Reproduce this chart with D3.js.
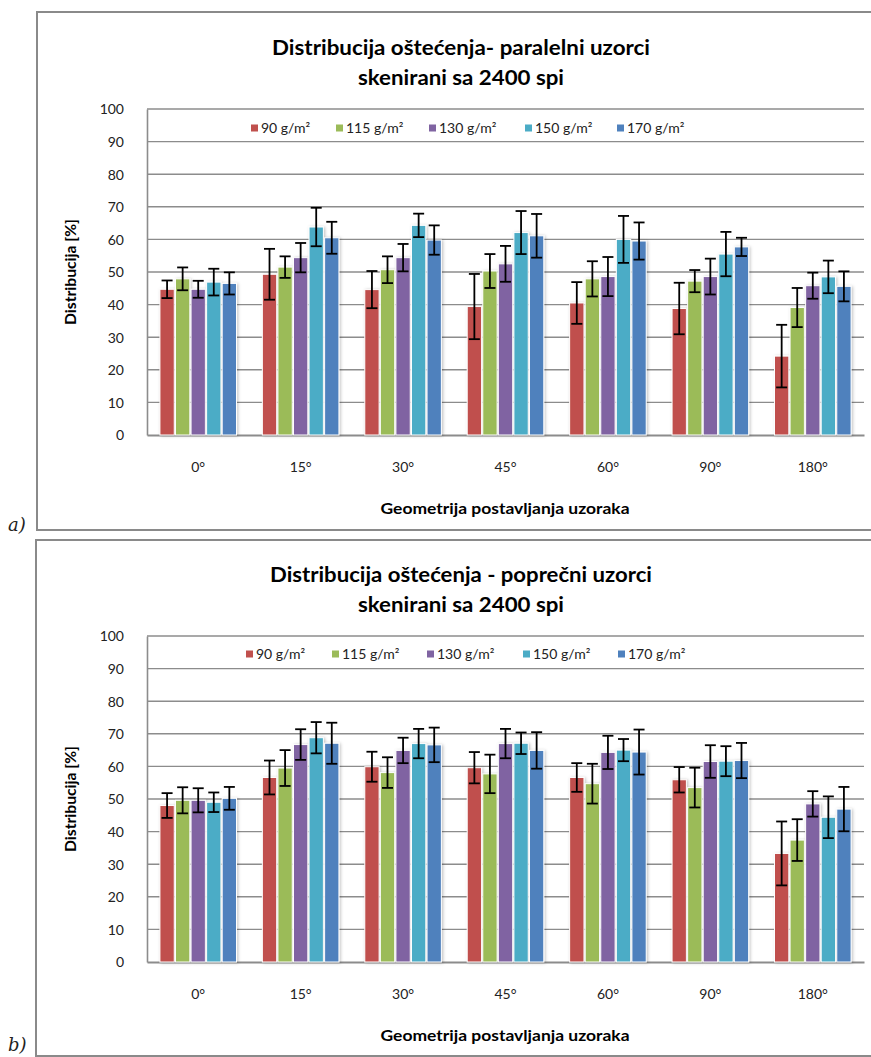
<!DOCTYPE html>
<html>
<head>
<meta charset="utf-8">
<script src="https://cdn.jsdelivr.net/npm/d3@7/dist/d3.min.js"></script>
<style>
  html, body { margin: 0; padding: 0; background: #fff; }
  svg { display: block; }
</style>
</head>
<body>
<svg id="chart" width="871" height="1057"></svg>
<script>
// ---------- DATA ----------
const categories = ["0°", "15°", "30°", "45°", "60°", "90°", "180°"];
const seriesNames = ["90 g/m²", "115 g/m²", "130 g/m²", "150 g/m²", "170 g/m²"];
const yTicks = [0, 10, 20, 30, 40, 50, 60, 70, 80, 90, 100];

// a) parallel samples – means
const par90  = [44.7, 49.3, 44.6, 39.4, 40.5, 38.8, 24.2];
const par115 = [47.9, 51.5, 50.7, 50.3, 47.9, 47.2, 39.1];
const par130 = [44.7, 54.4, 54.4, 52.5, 48.6, 48.6, 45.8];
const par150 = [46.9, 63.8, 64.3, 62.1, 60.0, 55.5, 48.5];
const par170 = [46.5, 60.5, 59.8, 61.1, 59.5, 57.7, 45.6];
// a) error bars
const parErr90  = [2.7, 7.8, 5.7, 10.0, 6.4, 7.9, 9.6];
const parErr115 = [3.5, 3.3, 4.1, 5.2, 5.4, 3.4, 6.0];
const parErr130 = [2.6, 4.5, 4.2, 5.5, 6.0, 5.5, 4.0];
const parErr150 = [4.1, 5.9, 3.6, 6.6, 7.2, 6.8, 5.0];
const parErr170 = [3.4, 4.9, 4.5, 6.7, 5.7, 2.8, 4.6];

// b) transverse samples – means
const pop90  = [48.0, 56.6, 59.9, 59.6, 56.6, 55.9, 33.3];
const pop115 = [49.6, 59.5, 58.1, 57.7, 54.7, 53.5, 37.4];
const pop130 = [49.6, 66.7, 64.9, 67.0, 64.3, 61.5, 48.5];
const pop150 = [49.0, 68.8, 67.0, 67.1, 65.0, 61.6, 44.4];
const pop170 = [50.2, 67.1, 66.6, 64.9, 64.4, 61.8, 46.9];
// b) error bars
const popErr90  = [3.8, 5.2, 4.6, 4.8, 4.4, 3.9, 9.8];
const popErr115 = [4.0, 5.5, 4.7, 5.9, 6.1, 6.1, 6.4];
const popErr130 = [3.7, 4.7, 3.9, 4.5, 5.1, 5.0, 3.9];
const popErr150 = [3.0, 4.8, 4.5, 3.3, 3.4, 4.6, 6.4];
const popErr170 = [3.5, 6.3, 5.3, 5.6, 6.9, 5.4, 6.8];

const colors = ["#C0504D", "#9BBB59", "#8064A2", "#4BACC6", "#4F81BD"];

// ---------- DRAW ----------
const svg = d3.select("#chart");
const FONT = "Lato, 'Open Sans', sans-serif";

const defs = svg.append("defs");
const f = defs.append("filter").attr("id", "shadow")
  .attr("x", "-40%").attr("y", "-10%").attr("width", "180%").attr("height", "120%");
f.append("feDropShadow").attr("dx", 1.2).attr("dy", 0.5).attr("stdDeviation", 1.6)
  .attr("flood-color", "#000").attr("flood-opacity", 0.25);

function drawChart(cfg) {
  const g = svg.append("g").attr("transform", `translate(0,${cfg.dy})`);

  // outer frame
  g.append("rect").attr("x", cfg.boxX).attr("y", cfg.boxTop)
    .attr("width", 900).attr("height", cfg.boxH)
    .attr("fill", "#fff").attr("stroke", "#8a8a8a").attr("stroke-width", 2);

  const left = 147, right = 864, top = 109, bottom = 435;

  const x = d3.scaleBand().domain(categories).range([left, right]).paddingInner(0.228).paddingOuter(0.114);
  const xs = d3.scaleBand().domain(d3.range(seriesNames.length)).range([0, x.bandwidth()]).padding(0.08);
  const y = d3.scaleLinear().domain([0, 100]).range([bottom, top]);

  // gridlines
  g.append("g").selectAll("line").data(yTicks.filter(t => t > 0)).join("line")
    .attr("x1", left).attr("x2", right)
    .attr("y1", d => y(d)).attr("y2", d => y(d))
    .attr("stroke", "#8c8c8c").attr("stroke-width", 1.4);

  // y axis
  const yAxis = d3.axisLeft(y).tickValues(yTicks).tickSize(0).tickPadding(0);
  const ya = g.append("g").attr("transform", `translate(${left},0)`).call(yAxis);
  ya.select(".domain").attr("stroke", "#8c8c8c").attr("stroke-width", 1.6);
  ya.selectAll("text").attr("x", 124 - left).attr("font-family", FONT).attr("font-size", 14)
    .attr("fill", "#222").attr("text-anchor", "end").attr("dy", "0.35em");

  // x axis
  const xAxis = d3.axisBottom(x).tickSize(0).tickPadding(0);
  const xa = g.append("g").attr("transform", `translate(0,${bottom})`).call(xAxis);
  xa.select(".domain").attr("stroke", "#8c8c8c").attr("stroke-width", 1.8);
  xa.selectAll("text").attr("y", 32).attr("dy", "0.35em").attr("font-family", FONT)
    .attr("font-size", 14).attr("fill", "#222");

  // bars
  const series = cfg.means.map((arr, si) => ({ si, values: arr, errs: cfg.errs[si] }));
  const groups = g.append("g").selectAll("g").data(series).join("g");
  groups.selectAll("rect").data(s => s.values.map((v, i) => ({ v, i, si: s.si, e: s.errs[i] })))
    .join("rect")
    .attr("x", d => x(categories[d.i]) + xs(d.si))
    .attr("y", d => y(d.v))
    .attr("width", xs.bandwidth())
    .attr("height", d => y(0) - y(d.v))
    .attr("fill", d => colors[d.si])
    .attr("stroke", "#fff").attr("stroke-width", 1)
    .attr("filter", "url(#shadow)");

  // error bars
  const eb = g.append("g");
  series.forEach(s => {
    s.values.forEach((v, i) => {
      const cx = x(categories[i]) + xs(s.si) + xs.bandwidth() / 2;
      const e = s.errs[i];
      const y1 = y(v + e), y2 = y(v - e);
      eb.append("line").attr("x1", cx).attr("x2", cx).attr("y1", y1).attr("y2", y2)
        .attr("stroke", "#000").attr("stroke-width", 1.8);
      [y1, y2].forEach(yy => eb.append("line").attr("x1", cx - 5.5).attr("x2", cx + 5.5)
        .attr("y1", yy).attr("y2", yy).attr("stroke", "#000").attr("stroke-width", 1.8));
    });
  });

  // legend
  const lg = g.append("g");
  seriesNames.forEach((name, i) => {
    const lx = cfg.legendXs[i];
    lg.append("rect").attr("x", lx).attr("y", cfg.legendY - 3.5).attr("width", 7).attr("height", 7)
      .attr("fill", colors[i]);
    lg.append("text").attr("x", lx + 10).attr("y", cfg.legendY).attr("dy", "0.35em")
      .attr("font-family", FONT).attr("font-size", 14).attr("fill", "#222").text(name);
  });

  // titles
  cfg.title.forEach((line, i) => {
    g.append("text").attr("x", 461).attr("y", 48 + i * 30).attr("dy", "0.35em")
      .attr("text-anchor", "middle").attr("font-family", FONT).attr("font-weight", "bold")
      .attr("font-size", 21).attr("fill", "#000")
      .attr("textLength", cfg.titleLens[i]).attr("lengthAdjust", "spacingAndGlyphs")
      .text(line);
  });

  g.append("text").attr("x", 505).attr("y", cfg.xTitleY).attr("dy", "0.35em")
    .attr("text-anchor", "middle").attr("font-family", FONT).attr("font-weight", "bold")
    .attr("font-size", 16).attr("fill", "#000")
    .attr("textLength", 249).attr("lengthAdjust", "spacingAndGlyphs")
    .text("Geometrija postavljanja uzoraka");

  g.append("text").attr("transform", `translate(71,${(top + bottom) / 2}) rotate(-90)`)
    .attr("dy", "0.35em").attr("text-anchor", "middle").attr("font-family", FONT)
    .attr("font-weight", "bold").attr("font-size", 15).attr("fill", "#000")
    .attr("textLength", 106).attr("lengthAdjust", "spacingAndGlyphs")
    .text("Distribucija [%]");

  g.append("text").attr("x", 8).attr("y", cfg.tagY)
    .attr("font-family", "'DejaVu Serif', 'Liberation Serif', serif").attr("font-style", "italic")
    .attr("font-size", 18).attr("fill", "#222").text(cfg.tag);
}

drawChart({
  dy: 0, boxX: 37, boxTop: 12, boxH: 518,
  means: [par90, par115, par130, par150, par170],
  errs: [parErr90, parErr115, parErr130, parErr150, parErr170],
  title: ["Distribucija oštećenja- paralelni uzorci", "skenirani sa 2400 spi"],
  titleLens: [378, 206],
  legendXs: [251, 336, 429, 525, 617], legendY: 128,
  xTitleY: 508, tagY: 531, tag: "a)"
});

drawChart({
  dy: 527, boxX: 36, boxTop: 13, boxH: 516,
  means: [pop90, pop115, pop130, pop150, pop170],
  errs: [popErr90, popErr115, popErr130, popErr150, popErr170],
  title: ["Distribucija oštećenja - poprečni uzorci", "skenirani sa 2400 spi"],
  titleLens: [382, 206],
  legendXs: [246, 332, 427, 523, 618], legendY: 127,
  xTitleY: 508, tagY: 524, tag: "b)"
});
</script>
</body>
</html>
